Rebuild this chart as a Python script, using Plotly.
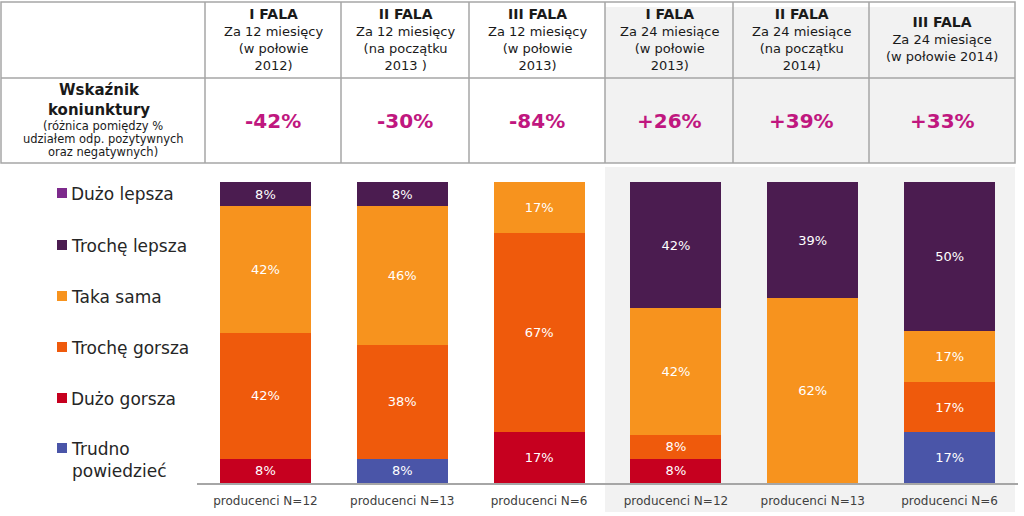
import plotly.graph_objects as go

# bar categories (x axis)
categories = ["producenci N=12", "producenci N=13", "producenci N=6",
              "producenci N=12", "producenci N=13", "producenci N=6"]

# table header
waves = ["I FALA", "II FALA", "III FALA", "I FALA", "II FALA", "III FALA"]
periods = [
    "Za 12 miesięcy<br>(w połowie<br>2012)",
    "Za 12 miesięcy<br>(na początku<br>2013 )",
    "Za 12 miesięcy<br>(w połowie<br>2013)",
    "Za 24 miesiące<br>(w połowie<br>2013)",
    "Za 24 miesiące<br>(na początku<br>2014)",
    "Za 24 miesiące<br>(w połowie 2014)",
]
index_values = ["-42%", "-30%", "-84%", "+26%", "+39%", "+33%"]
index_note = ["(różnica pomiędzy %", "udziałem odp. pozytywnych", "oraz negatywnych)"]

# answers, bottom to top of each stacked bar (%)
trudno = [0, 8, 0, 0, 0, 17]
duzo_gorsza = [8, 0, 17, 8, 0, 0]
troche_gorsza = [42, 38, 67, 8, 0, 17]
taka_sama = [42, 46, 17, 42, 62, 17]
troche_lepsza = [8, 8, 0, 42, 39, 50]
duzo_lepsza = [0, 0, 0, 0, 0, 0]

series = [
    ("Trudno<br>powiedzieć", trudno, "#4a55a8"),
    ("Dużo gorsza", duzo_gorsza, "#c6001f"),
    ("Trochę gorsza", troche_gorsza, "#ef5a0c"),
    ("Taka sama", taka_sama, "#f7931e"),
    ("Trochę lepsza", troche_lepsza, "#4b1c50"),
    ("Dużo lepsza", duzo_lepsza, "#7d2a8c"),
]

FONT = "DejaVu Sans"
W, H = 1024, 516
L, R, T, B = 197, 6, 182, 33
PW = W - L - R
PH = H - T - B


def fx(px):
    return (px - L) / PW


def fy(py):
    return (H - B - py) / PH


xs = list(range(len(categories)))

fig = go.Figure()
for name, vals, color in series:
    fig.add_trace(go.Bar(
        x=xs, y=vals, name=name.replace("<br>", " "),
        marker=dict(color=color, line=dict(width=0)),
        text=[f"{v}%" if v else "" for v in vals],
        textposition="inside", insidetextanchor="middle", textangle=0,
        textfont=dict(family=FONT, size=13, color="white"),
        showlegend=False,
    ))

shapes = []
annotations = []

# grey panel behind the 24-month waves
shapes.append(dict(type="rect", xref="paper", yref="paper", layer="below",
                   x0=fx(605), x1=fx(1015), y0=fy(167), y1=fy(512),
                   fillcolor="#f2f2f2", line=dict(width=0)))
shapes.append(dict(type="rect", xref="paper", yref="paper", layer="below",
                   x0=fx(605), x1=fx(1015), y0=fy(7), y1=fy(163),
                   fillcolor="#f2f2f2", line=dict(width=0)))

# table grid
grid = "#a6a6a6"
col_edges = [205, 341, 469, 605, 733, 869, 1015]
shapes.append(dict(type="rect", xref="paper", yref="paper",
                   x0=fx(1), x1=fx(1015), y0=fy(2), y1=fy(163),
                   line=dict(color=grid, width=1.5)))
shapes.append(dict(type="line", xref="paper", yref="paper",
                   x0=fx(1), x1=fx(1015), y0=fy(78), y1=fy(78),
                   line=dict(color=grid, width=1.5)))
for ex in col_edges[:-1]:
    shapes.append(dict(type="line", xref="paper", yref="paper",
                       x0=fx(ex), x1=fx(ex), y0=fy(2), y1=fy(163),
                       line=dict(color=grid, width=1.5)))

# table texts
for i in range(len(waves)):
    cx = (col_edges[i] + col_edges[i + 1]) / 2
    annotations.append(dict(
        xref="paper", yref="paper", x=fx(cx), y=fy(39),
        text=f"<b><span style='font-size:14px'>{waves[i]}</span></b><br>{periods[i]}",
        showarrow=False, xanchor="center", yanchor="middle", align="center",
        font=dict(family=FONT, size=13, color="#1a1a1a")))
    annotations.append(dict(
        xref="paper", yref="paper", x=fx(cx), y=fy(121),
        text=f"<b>{index_values[i]}</b>",
        showarrow=False, xanchor="center", yanchor="middle",
        font=dict(family=FONT, size=20, color="#c0177f")))

annotations.append(dict(
    xref="paper", yref="paper", x=fx(99), y=fy(100),
    text="<b>Wskaźnik<br>koniunktury</b>",
    showarrow=False, xanchor="center", yanchor="middle", align="center",
    font=dict(family=FONT, size=15, color="#1a1a1a")))
for k, line in enumerate(index_note):
    annotations.append(dict(
        xref="paper", yref="paper", x=fx(103), y=fy(126.5 + 12.5 * k),
        text=line, showarrow=False, xanchor="center", yanchor="middle",
        font=dict(family=FONT, size=11.5, color="#1a1a1a")))

# legend drawn on the left
legend_y = [448, 398, 347, 296, 245, 193]
for (name, vals, color), ly in zip(series, legend_y):
    shapes.append(dict(type="rect", xref="paper", yref="paper",
                       x0=fx(57), x1=fx(67), y0=fy(ly + 5), y1=fy(ly - 5),
                       fillcolor=color, line=dict(width=0)))
    annotations.append(dict(
        xref="paper", yref="paper", x=fx(69), y=fy(ly - 11),
        text=name, showarrow=False, xanchor="left", yanchor="top", align="left",
        font=dict(family=FONT, size=17, color="#262626")))

fig.update_layout(
    width=W, height=H,
    margin=dict(l=L, r=R, t=T, b=B),
    barmode="stack", barnorm="percent", bargap=0.336,
    paper_bgcolor="white", plot_bgcolor="rgba(0,0,0,0)",
    uniformtext=dict(mode="show", minsize=13),
    shapes=shapes, annotations=annotations,
    xaxis=dict(range=[-0.5, 5.5], tickvals=xs, ticktext=categories,
               showline=True, linecolor="#a6a6a6", linewidth=1.5,
               showgrid=False, zeroline=False, ticks="outside", ticklen=6,
               tickcolor="rgba(0,0,0,0)",
               tickfont=dict(family=FONT, size=12, color="#404040")),
    yaxis=dict(range=[0, 100], visible=False),
)

fig.write_html("out.html", config={"displayModeBar": False},
               post_script="document.body.style.margin = '0';")
